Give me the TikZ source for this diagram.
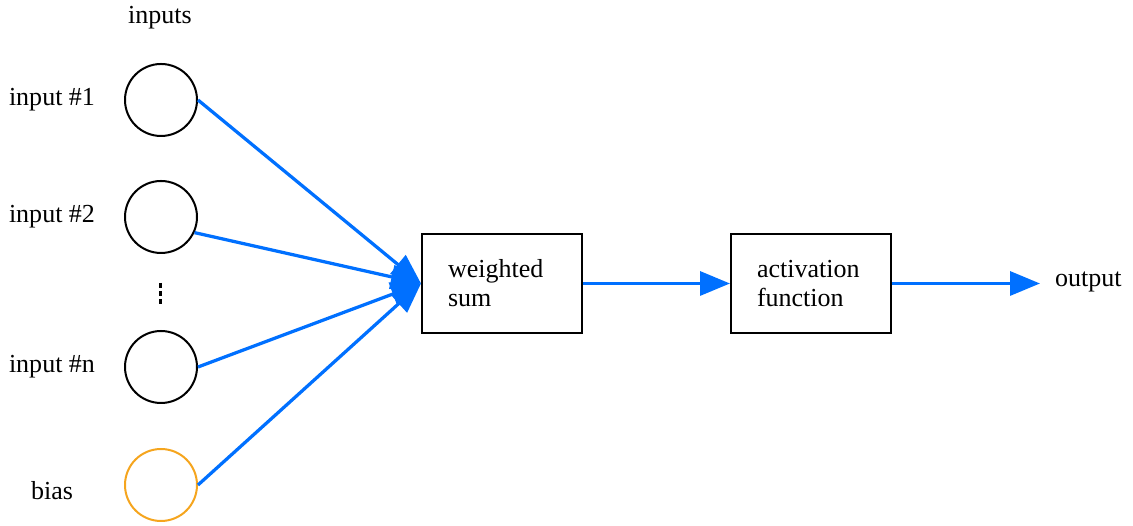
\documentclass[tikz,border=0pt]{standalone}
\usepackage{fontspec}
\setmainfont{Liberation Serif}
\usepackage{tikz}
\usetikzlibrary{arrows.meta}
\definecolor{wireblue}{RGB}{ 0, 112, 255 }
\definecolor{biasorange}{RGB}{ 245, 165, 30 }

\begin{document}
\begin{tikzpicture}[
font=\fontsize{14.8}{16.5}\selectfont
]
    \tikzstyle{neuron}=[circle,draw,line width=0.04cm,minimum size=1.44cm,inner sep=0]
    \tikzstyle{stage}=[draw,line width=0.04cm,minimum height=1.98cm,text width=2.16cm,inner xsep=0.52cm,align=left]
    \tikzstyle{wire}=[wireblue,line width=0.065cm,-{Triangle[length=0.6cm,width=0.48cm]}]

    \useasboundingbox (0,0) rectangle (22.66,10.52);

    % inputs
    \node(inputs) at (3.2,10.16) {inputs};
    \node(in1)[neuron] at (3.22,8.52) {};
    \node(in2)[neuron] at (3.22,6.18) {};
    \coordinate(dtop) at (3.2,4.86);
    \coordinate(dbot) at (3.2,4.44);
    \node(inn)[neuron] at (3.22,3.18) {};
    \node(bias)[neuron,draw=biasorange] at (3.22,0.82) {};

    \node(l1) at (1.04,8.52) {input \#1};
    \node(l2) at (1.04,6.18) {input \#2};
    \node(ln) at (1.04,3.18) {input \#n};
    \node(lb) at (1.04,0.7) {bias};

    % more inputs
    \draw[line width=0.06cm,dash pattern=on 0.1cm off 0.06cm] (dtop) -- (dbot);

    % stages
    \node(sum)[stage] at (10.04,4.85) {weighted\\sum};
    \node(act)[stage] at (16.22,4.85) {activation\\function};
    \coordinate(outend) at (20.8,4.85);
    \node(output)[anchor=west] at (20.98,4.88) {output};

    % connections
    \draw[wire] (in1.east) -- (sum.west);
    \draw[wire] (in2.-25) -- (sum.west);
    \draw[wire] (inn.east) -- (sum.west);
    \draw[wire] (bias.east) -- (sum.west);
    \draw[wire] (sum) -- (act);
    \draw[wire] (act) -- (outend);
\end{tikzpicture}
\end{document}
